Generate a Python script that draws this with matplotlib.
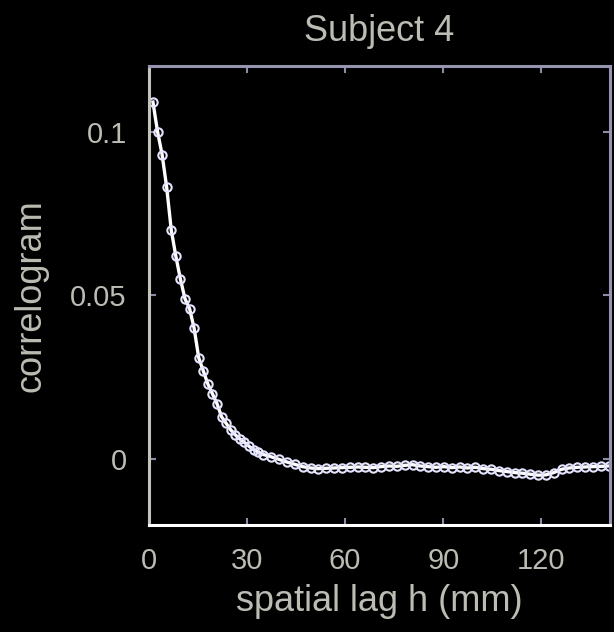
"""
Correlogram for subject 4, MATLAB-like dark figure
"""
import matplotlib
matplotlib.use("Agg")
import matplotlib.pyplot as plt

# spatial lags (mm) and correlogram values
lags_mm = [1.2, 2.6, 4.0, 5.4, 6.8, 8.2, 9.6, 11.0, 12.4, 13.8,
           15.2, 16.6, 18.0, 19.4, 20.8, 22.2, 23.6, 25.0, 26.4, 27.8,
           29.2, 30.6, 32.0, 33.4, 35.0, 37.4, 39.8, 42.2, 44.6, 47.0,
           49.4, 51.8, 54.2, 56.6, 59.0, 61.4, 63.8, 66.2, 68.6, 71.0,
           73.4, 75.8, 78.2, 80.6, 83.0, 85.4, 87.8, 90.2, 92.6, 95.0,
           97.4, 99.8, 102.2, 104.6, 107.0, 109.4, 111.8, 114.2, 116.6, 119.0,
           121.4, 123.8, 126.2, 128.6, 131.0, 133.4, 135.8, 138.2, 140.6]
correlogram = [0.109, 0.100, 0.093, 0.083, 0.070, 0.062, 0.055, 0.049, 0.046, 0.040,
               0.031, 0.027, 0.023, 0.020, 0.017, 0.013, 0.011, 0.009, 0.0075, 0.0062,
               0.0052, 0.0040, 0.0030, 0.0022, 0.0015, 0.0008, 0.0000, -0.0008, -0.0015, -0.0022,
               -0.0026, -0.0028, -0.0027, -0.0026, -0.0025, -0.0024, -0.0023, -0.0024, -0.0025, -0.0022,
               -0.0020, -0.0021, -0.0018, -0.0016, -0.0020, -0.0022, -0.0024, -0.0022, -0.0025, -0.0023,
               -0.0026, -0.0024, -0.0028, -0.0030, -0.0034, -0.0037, -0.0040, -0.0042, -0.0045, -0.0048,
               -0.0047, -0.0040, -0.0030, -0.0026, -0.0024, -0.0023, -0.0022, -0.0021, -0.0020]

x_ticks = [0, 30, 60, 90, 120]
y_ticks = [0, 0.05, 0.1]
y_tick_labels = ["0", "0.05", "0.1"]

text_color = "#bcbcb4"


def main():
    plt.rcParams["font.family"] = ["Liberation Sans", "DejaVu Sans"]

    fig = plt.figure(figsize=(6.14, 6.32), dpi=100, facecolor="black")
    ax = fig.add_axes([0.2427, 0.1693, 0.7508, 0.7263], facecolor="black")

    ax.plot(lags_mm, correlogram, color="white", linewidth=2.4,
            marker="o", markersize=6, markerfacecolor="none",
            markeredgecolor="#e4e4ff", markeredgewidth=1.5)

    ax.set_xlim(0, 141)
    ax.set_ylim(-0.02, 0.12)
    ax.set_xticks(x_ticks)
    ax.set_yticks(y_ticks)
    ax.set_yticklabels(y_tick_labels)

    # box like MATLAB: ticks inside on all four sides
    ax.tick_params(direction="in", length=5, width=1.5, colors="#8c8ca8",
                   labelcolor=text_color, labelsize=21,
                   top=True, right=True, pad=16)
    ax.spines["left"].set_color("#c4c4bc")
    ax.spines["bottom"].set_color("white")
    ax.spines["top"].set_color("#9494b0")
    ax.spines["right"].set_color("#9494b0")
    for side in ax.spines.values():
        side.set_linewidth(2.2)

    ax.set_title("Subject 4", color=text_color, fontsize=26, pad=18)
    ax.set_xlabel("spatial lag h (mm)", color=text_color, fontsize=26, labelpad=6)
    ax.set_ylabel("correlogram", color=text_color, fontsize=26, labelpad=16)

    fig.savefig("out.png", dpi=100, facecolor="black")
    plt.close(fig)


if __name__ == "__main__":
    main()
